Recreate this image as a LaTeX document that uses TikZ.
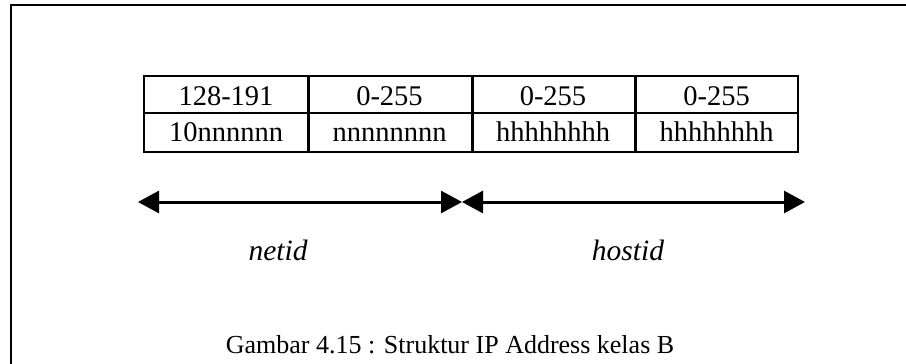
\documentclass[tikz,border=0pt]{standalone}
\usepackage{fontspec}
\setmainfont{Liberation Serif}
\usetikzlibrary{arrows.meta}

\tikzset{
  cell/.style={inner sep=0pt, anchor=base, font=\fontsize{28.5}{32}\selectfont},
  extent/.style={line width=3pt, {Triangle[length=21pt,width=22pt]}-{Triangle[length=21pt,width=22pt]}},
  lbl/.style={font=\fontsize{29.5}{33}\selectfont\itshape, inner sep=0pt, anchor=base},
  captext/.style={font=\fontsize{26}{30}\selectfont, inner sep=0pt, anchor=base},
}

\begin{document}
\begin{tikzpicture}[x=1pt, y=-1pt]
  \useasboundingbox (0,0) rectangle (906,364);

  % open frame: top and left edges only
  \draw[line width=1.6pt] (11,364) -- (11,5) -- (906,5);

  % address octets: decimal ranges on top, bit pattern below
  \node[cell] (d1) at (226,105) {128-191};
  \node[cell] (d2) at (389.5,105) {0-255};
  \node[cell] (d3) at (553,105) {0-255};
  \node[cell] (d4) at (716.5,105) {0-255};
  \node[cell] (b1) at (226,141.7) {10nnnnnn};
  \node[cell] (b2) at (389.5,141.7) {nnnnnnnn};
  \node[cell] (b3) at (553,141.7) {hhhhhhhh};
  \node[cell] (b4) at (716.5,141.7) {hhhhhhhh};

  % grid lines
  \draw[line width=2pt] (144,112.5) -- (798,112.5);
  \draw[line width=3pt] (308,76) -- (308,152);
  \draw[line width=3pt] (472,76) -- (472,152);
  \draw[line width=3pt] (635,76) -- (635,152);
  \draw[line width=2.8pt] (144,76) rectangle (798,152);

  % extent arrows for network and host parts
  \coordinate (aL) at (138,202);
  \coordinate (aM) at (462,202);
  \coordinate (aR) at (805,202);
  \draw[extent] (aL) -- (aM);
  \draw[extent] (aM) -- (aR);

  \node[lbl] (net) at (278,260) {netid};
  \node[lbl] (host) at (628,260) {hostid};

  \node[captext] (caption) at (450,353) {Gambar 4.15 : Struktur IP Address kelas B};
\end{tikzpicture}
\end{document}
